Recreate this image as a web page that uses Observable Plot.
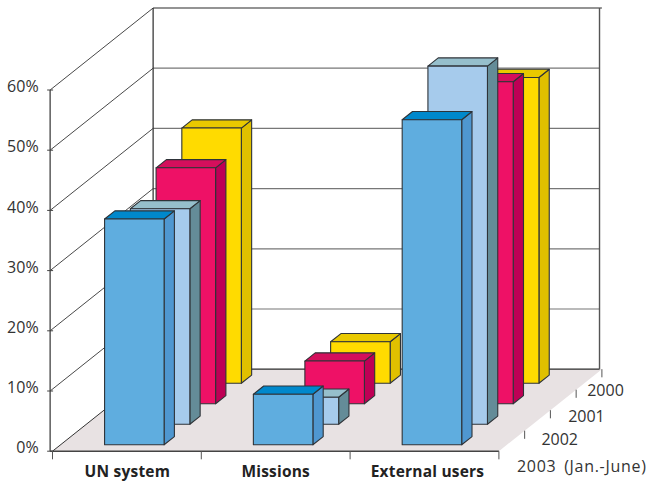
<!DOCTYPE html>
<html><head><meta charset="utf-8">
<style>html,body{margin:0;padding:0;background:#fff}svg{display:block}</style>
<script src="https://cdn.jsdelivr.net/npm/d3@7"></script>
<script src="https://cdn.jsdelivr.net/npm/@observablehq/plot@0.6"></script>
</head><body><div id="chart"></div>
<script>
const categories = ["UN system", "Missions", "External users"];
const years = ["2000", "2001", "2002", "2003 (Jan.-June)"];
const values2000 = [42.4, 6.9, 50.8];
const values2001 = [39.2, 7.1, 53.5];
const values2002 = [35.8, 4.5, 59.5];
const values2003 = [37.5, 8.4, 54.0];
const yTicks = [0, 10, 20, 30, 40, 50, 60];
const yearColors = [
  {front: "#FFDB00", top: "#E9C900", side: "#E0C000"},
  {front: "#EE1166", top: "#D40F5C", side: "#BE0055"},
  {front: "#A6CBEC", top: "#96BFCC", side: "#648C98"},
  {front: "#5FADDF", top: "#0088CC", side: "#4F97D0"}
];
const series = [values2000, values2001, values2002, values2003];

// oblique projection: depth d in [0,1] moves right and up
const DX = 103 / 148.8, DY = 82 / 6.02;
const WALL = -0.016;
const px = (c, d) => c + d * DX;
const py = (v, d) => v + d * DY;
const BAR_LEFT = 0.296, BAR_W = 0.4, BAR_D = 0.1, D0 = 0.078, ROW = 0.25;

const faces = [];
function addFace(id, color, pts) {
  for (const [c, d, v] of pts) faces.push({id, color, x: px(c, d), y: py(v, d)});
}
series.forEach((vals, k) => {
  const d0 = D0 + ROW * (3 - k), d1 = d0 + BAR_D, col = yearColors[k];
  vals.forEach((v, i) => {
    const c0 = i + BAR_LEFT, c1 = c0 + BAR_W, id = `${k}-${i}`;
    addFace(id + "side", col.side, [[c1, d0, 0], [c1, d1, 0], [c1, d1, v], [c1, d0, v]]);
    addFace(id + "top", col.top, [[c0, d0, v], [c1, d0, v], [c1, d1, v], [c0, d1, v]]);
    addFace(id + "front", col.front, [[c0, d0, 0], [c1, d0, 0], [c1, d0, v], [c0, d0, v]]);
  });
});

const floor = [[0, 0], [3, 0], [3, 1], [0, 1]].map(([c, d]) => ({x: px(c, d), y: py(0, d)}));
const link = (a, b) => ({x1: a[0], y1: a[1], x2: b[0], y2: b[1]});
const gridBack = yTicks.map(v => link([px(WALL, 1), py(v, 1)], [px(3 + WALL, 1), py(v, 1)]));
const diagonals = yTicks.slice(1).map(v => link([WALL, v], [px(WALL, 1), py(v, 1)]));
const TICK = 1.35;
const catEdges = d3.range(0, 4).map(c => link([c, 0], [c, -TICK]));
const depthEdges = [0.25, 0.5, 0.75, 1].map(d => link([px(3, d), py(0, d)], [px(3, d), py(-TICK, d)]));
const leftTicks = yTicks.map(v => link([WALL - 0.02, v], [WALL + 0.02, v]));

const yearLabels = years.map((label, k) => ({label, x: px(3, 1 - k * ROW), y: py(0, 1 - k * ROW)}));
const yearOffsets = [[-14.7, 22], [-8, 27.5], [-9, 30], [-7.7, 36.5]];
const yearSpacing = [0, 0, 0, 0.7];
const labelNudge = [0.003, 0, 0.02];

const spaced = (letter, word = 0) => ({
  render(index, scales, values, dims, ctx, next) {
    const g = next(index, scales, values, dims, ctx);
    g.style.letterSpacing = letter + "px";
    g.style.wordSpacing = word + "px";
    return g;
  }
});

const chart = Plot.plot({
  width: 649, height: 481,
  marginTop: 0, marginRight: 0, marginBottom: 0, marginLeft: 0,
  x: {domain: [0, 3], range: [52, 498.4], axis: null},
  y: {domain: [0, 60], range: [450.7, 89.5], axis: null},
  color: {type: "identity"},
  style: {background: "#fff", fontFamily: "'Open Sans', sans-serif"},
  marks: [
    Plot.line(floor, {x: "x", y: "y", curve: "linear-closed", fill: "#E8E2E3", stroke: "none"}),
    Plot.link(gridBack.slice(1, -1), {x1: "x1", y1: "y1", x2: "x2", y2: "y2", stroke: "#777", strokeWidth: 1.2}),
    Plot.link([gridBack[0]], {x1: "x1", y1: "y1", x2: "x2", y2: "y2", stroke: "#2a2a2a", strokeWidth: 1.2}),
    Plot.link([link([px(WALL, 1), py(60, 1)], [px(3, 1), py(60, 1)])], {x1: "x1", y1: "y1", x2: "x2", y2: "y2", stroke: "#2a2a2a", strokeWidth: 1.2}),
    Plot.link(diagonals, {x1: "x1", y1: "y1", x2: "x2", y2: "y2", stroke: "#333", strokeWidth: 0.9}),
    Plot.link([link([px(WALL, 1), py(0, 1)], [px(WALL, 1), py(60, 1)])], {x1: "x1", y1: "y1", x2: "x2", y2: "y2", stroke: "#2a2a2a", strokeWidth: 1.2}),
    Plot.link([link([px(3 + WALL, 1), py(0, 1)], [px(3 + WALL, 1), py(60, 1)])], {x1: "x1", y1: "y1", x2: "x2", y2: "y2", stroke: "#555", strokeWidth: 1.4}),
    Plot.link([link([0, 0], [px(0, 1), py(0, 1)])], {x1: "x1", y1: "y1", x2: "x2", y2: "y2", stroke: "#333", strokeWidth: 1}),
    Plot.line(faces, {x: "x", y: "y", z: "id", fill: "color", stroke: "#2e3338", strokeWidth: 1.1, strokeLinejoin: "round", curve: "linear-closed"}),
    Plot.link([link([WALL, 0], [WALL, 60])], {x1: "x1", y1: "y1", x2: "x2", y2: "y2", stroke: "#333", strokeWidth: 1.2}),
    Plot.link([link([WALL, 0], [3, 0])], {x1: "x1", y1: "y1", x2: "x2", y2: "y2", stroke: "#444", strokeWidth: 1.5}),
    Plot.link(leftTicks, {x1: "x1", y1: "y1", x2: "x2", y2: "y2", stroke: "#444", strokeWidth: 1}),
    Plot.link(catEdges, {x1: "x1", y1: "y1", x2: "x2", y2: "y2", stroke: "#555", strokeWidth: 1}),
    Plot.link(depthEdges, {x1: "x1", y1: "y1", x2: "x2", y2: "y2", stroke: "#555", strokeWidth: 1}),
    Plot.text(yTicks, {x: WALL, y: d => d, text: d => `${d}%`, textAnchor: "end", dx: -11.5, dy: -3, fontSize: 16, fill: "#333"}),
    Plot.text(categories, {x: (d, i) => i + 0.5 + labelNudge[i], y: -3.4, text: d => d, fontSize: 15.5, fontWeight: 700, fill: "#222", ...spaced(0.2)}),
    ...yearLabels.map((d, i) => Plot.text([d], {x: "x", y: "y", text: "label", textAnchor: "start", dx: yearOffsets[i][0], dy: yearOffsets[i][1], fontSize: 16, fill: "#333", ...spaced(yearSpacing[i], i === 3 ? 3 : 0)}))
  ]
});
document.getElementById("chart").append(chart);
</script></body></html>
